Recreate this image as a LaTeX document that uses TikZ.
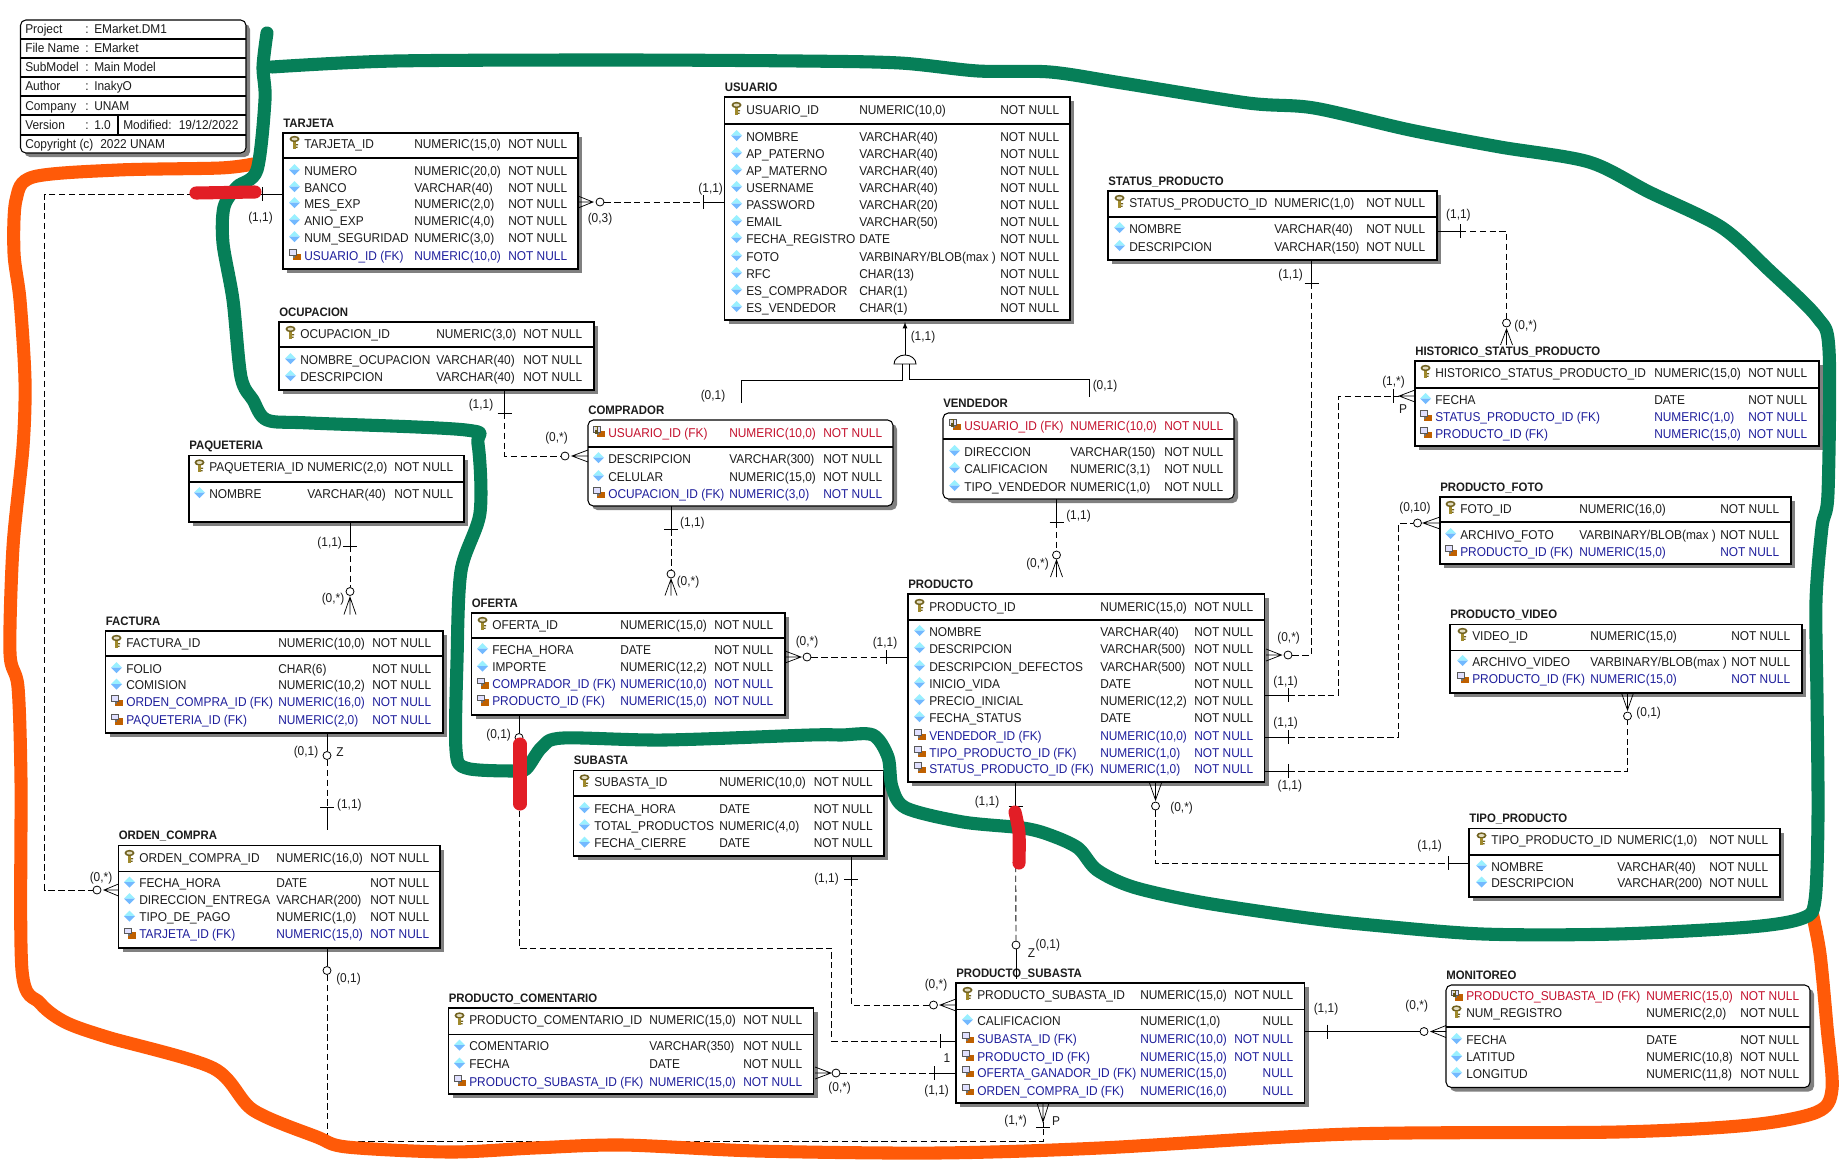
\documentclass[tikz,border=0pt]{standalone}
\usepackage{fontspec}
\setmainfont[FakeStretch=.93]{Liberation Sans}
\usetikzlibrary{fit,shadows}

\definecolor{rowblack}{HTML}{1C1C1C}
\definecolor{fkblue}{HTML}{1F1F9C}
\definecolor{pfred}{HTML}{C4122E}
\definecolor{keygold}{HTML}{A08A2C}
\definecolor{strokegreen}{HTML}{067F58}
\definecolor{strokeorange}{HTML}{FF5A08}
\definecolor{strokered}{HTML}{E21E26}

\tikzset{
  entbox/.style={draw=black,fill=white,line width=.8pt,inner sep=0pt,outer sep=0pt,
    drop shadow={shadow xshift=3pt,shadow yshift=-3pt,opacity=1,fill=black!50}},
  softbox/.style={rounded corners=4pt},
  enttitle/.style={inner sep=0pt,anchor=base west,font=\fontsize{9.2}{11}\selectfont\bfseries,text=rowblack},
  rowtext/.style={inner sep=0pt,anchor=base west,font=\fontsize{9.6}{11}\selectfont,text=rowblack},
  pkrow/.style={},
  atrow/.style={},
  fkrow/.style={text=fkblue},
  pfrow/.style={text=pfred},
  card/.style={inner sep=0pt,font=\fontsize{9.6}{11}\selectfont,text=rowblack},
  rel/.style={dash pattern=on 4.8pt off 2.6pt},
  link/.style={line width=.65pt},
  optc/.style={circle,draw=black,fill=white,line width=.6pt,inner sep=0pt,minimum size=6pt},
  thickstroke/.style={line width=9.8pt,line cap=round,line join=round},
}

% row icons, drawn round the origin
\newcommand{\pkicon}{%
  \fill[keygold!70!black] (0,-3.5) ellipse[x radius=5,y radius=3.2];
  \fill[keygold!30!white] (0,-3.5) ellipse[x radius=3,y radius=1.5];
  \fill[keygold] (-1.5,-1) rectangle (1.5,6);
  \fill[keygold!70!black] (1.5,1.5) rectangle (3.5,2.8) (1.5,4) rectangle (3,5.3);
}
\newcommand{\aticon}{%
  \fill[blue!15!cyan!40!white] (-5.5,0) -- (0,-5.5) -- (5.5,0) -- cycle;
  \fill[blue!50!cyan!55!white] (-5.5,0) -- (0,5.5) -- (5.5,0) -- cycle;
}
\newcommand{\fkicon}{%
  \fill[orange!75!black] (-1.5,-1) rectangle (6,5.5);
  \fill[black!65] (-5.5,-5.5) rectangle (2,1);
  \fill[blue!12!white] (-4.5,-4.5) rectangle (1,0);
  \fill[black!55] (-1.5,1) rectangle (0,3);
}
\newcommand{\pficon}{%
  \fkicon
  \fill[keygold!60!black] (-4,-5.5) rectangle (-1,2);
  \fill[keygold!30!white] (-3.2,-4.5) rectangle (-1.8,-2);
}

% name, title, left, top, right, bottom, divider
\newcommand{\enttable}[8][]{%
  \node[entbox,#1,fit={(#4,#5)(#6,#7)}] (#2) {};
  \node[enttitle] (#2title) at (#4,#5-6) {#3};
  \draw[line width=.8pt] (#4,#8) -- (#6,#8);
}
% name, x of the three columns, rows kind/y/name/type/null
\newcommand{\entrows}[5]{%
  \foreach \rkind/\ry/\ra/\rb/\rc [count=\ri] in {#5}{
    \begin{scope}[shift={(#2-9.5,\ry-1.5)}]
      \csname\rkind icon\endcsname
    \end{scope}
    \node[rowtext,\rkind row] (#1a\ri) at (#2,\ry+4.4) {\ra};
    \node[rowtext,\rkind row] (#1b\ri) at (#3,\ry+4.4) {\rb};
    \node[rowtext,\rkind row] (#1c\ri) at (#4,\ry+4.4) {\rc};
  }
}

\newcommand{\nn}{NOT NULL}
\newcommand{\nul}{\phantom{NOT }NULL}

% crossing bars and crow feet
\newcommand{\tickv}[3]{\coordinate (#1) at (#2,#3); \draw[link] (#2,#3-7) -- (#2,#3+7);}
\newcommand{\tickh}[3]{\coordinate (#1) at (#2,#3); \draw[link] (#2-7,#3) -- (#2+7,#3);}
\newcommand{\crowh}[4]{\coordinate (#1) at (#2,#3);
  \draw[line width=.55pt] (#4,#3-6) -- (#1) -- (#4,#3+6) (#1) -- (#4,#3);}
\newcommand{\crowv}[4]{\coordinate (#1) at (#2,#3);
  \draw[line width=.55pt] (#2-6,#4) -- (#1) -- (#2+6,#4) (#1) -- (#2,#4);}

\begin{document}
\begin{tikzpicture}[x=.75pt,y=-.75pt]
  \useasboundingbox (0,0) rectangle (1840,1161);

  % project block
  \node[entbox,softbox,fit={(20.5,20)(246,153)}] (project) {};
  \foreach \ly in {39,58,77,96,115,135}
    \draw[line width=.8pt] (20.5,\ly) -- (246,\ly);
  \draw[line width=.8pt] (118,115) -- (118,135);
  \foreach \ry/\ra/\rb [count=\ri] in {29.5/Project/EMarket.DM1,48.5/File Name/EMarket,67.5/SubModel/Main Model,86.5/Author/InakyO,106/Company/UNAM,125.5/Version/1.0}{
    \node[rowtext] (prk\ri) at (25,\ry+4.4) {\ra};
    \node[rowtext] (prc\ri) at (85,\ry+4.4) {:};
    \node[rowtext] (prv\ri) at (94,\ry+4.4) {\rb};
  }
  \node[rowtext] (prmod) at (123,129.9) {Modified:};
  \node[rowtext] (prdate) at (178.6,129.9) {19/12/2022};
  \node[rowtext] (prcopy) at (25,148.9) {Copyright (c)};
  \node[rowtext] (prunam) at (100,148.9) {2022 UNAM};

  % tables
  \enttable{tarjeta}{TARJETA}{283}{133}{578}{269}{158}
  \entrows{tarjeta}{304}{414}{508}{pk/144/TARJETA\_ID/{NUMERIC(15,0)}/\nn,at/171/NUMERO/{NUMERIC(20,0)}/\nn,at/188/BANCO/{VARCHAR(40)}/\nn,at/204/MES\_EXP/{NUMERIC(2,0)}/\nn,at/221/ANIO\_EXP/{NUMERIC(4,0)}/\nn,at/238/NUM\_SEGURIDAD/{NUMERIC(3,0)}/\nn,fk/256/USUARIO\_ID (FK)/{NUMERIC(10,0)}/\nn}

  \enttable{ocupacion}{OCUPACION}{279}{322}{594}{390}{347}
  \entrows{ocupacion}{300}{436}{523}{pk/334/OCUPACION\_ID/{NUMERIC(3,0)}/\nn,at/360/NOMBRE\_OCUPACION/{VARCHAR(40)}/\nn,at/377/DESCRIPCION/{VARCHAR(40)}/\nn}

  \enttable{usuario}{USUARIO}{724.5}{97}{1070}{320}{124}
  \entrows{usuario}{746}{859}{1000}{pk/110/USUARIO\_ID/{NUMERIC(10,0)}/\nn,at/137/NOMBRE/{VARCHAR(40)}/\nn,at/154/AP\_PATERNO/{VARCHAR(40)}/\nn,at/171/AP\_MATERNO/{VARCHAR(40)}/\nn,at/188/USERNAME/{VARCHAR(40)}/\nn,at/205/PASSWORD/{VARCHAR(20)}/\nn,at/222/EMAIL/{VARCHAR(50)}/\nn,at/239/FECHA\_REGISTRO/DATE/\nn,at/257/FOTO/{VARBINARY/BLOB(max )}/\nn,at/274/RFC/{CHAR(13)}/\nn,at/291/ES\_COMPRADOR/{CHAR(1)}/\nn,at/308/ES\_VENDEDOR/{CHAR(1)}/\nn}

  \enttable{statusproducto}{STATUS\_PRODUCTO}{1108}{191}{1437}{260}{217}
  \entrows{statusproducto}{1129}{1274}{1366}{pk/203/STATUS\_PRODUCTO\_ID/{NUMERIC(1,0)}/\nn,at/229/NOMBRE/{VARCHAR(40)}/\nn,at/247/DESCRIPCION/{VARCHAR(150)}/\nn}

  \enttable{historico}{HISTORICO\_STATUS\_PRODUCTO}{1415}{361}{1819}{446}{388}
  \entrows{historico}{1435}{1654}{1748}{pk/373/HISTORICO\_STATUS\_PRODUCTO\_ID/{NUMERIC(15,0)}/\nn,at/400/FECHA/DATE/\nn,fk/417/STATUS\_PRODUCTO\_ID (FK)/{NUMERIC(1,0)}/\nn,fk/434/PRODUCTO\_ID (FK)/{NUMERIC(15,0)}/\nn}

  \enttable{productofoto}{PRODUCTO\_FOTO}{1440}{497}{1791}{564}{522}
  \entrows{productofoto}{1460}{1579}{1720}{pk/509/FOTO\_ID/{NUMERIC(16,0)}/\nn,at/535/ARCHIVO\_FOTO/{VARBINARY/BLOB(max )}/\nn,fk/552/PRODUCTO\_ID (FK)/{NUMERIC(15,0)}/\nn}

  \enttable[softbox]{comprador}{COMPRADOR}{588}{420}{893}{506}{447}
  \entrows{comprador}{608}{729}{823}{pf/433/USUARIO\_ID (FK)/{NUMERIC(10,0)}/\nn,at/459/DESCRIPCION/{VARCHAR(300)}/\nn,at/477/CELULAR/{NUMERIC(15,0)}/\nn,fk/494/OCUPACION\_ID (FK)/{NUMERIC(3,0)}/\nn}

  \enttable[softbox]{vendedor}{VENDEDOR}{943}{413}{1234}{499}{439}
  \entrows{vendedor}{964}{1070}{1164}{pf/426/USUARIO\_ID (FK)/{NUMERIC(10,0)}/\nn,at/452/DIRECCION/{VARCHAR(150)}/\nn,at/469/CALIFICACION/{NUMERIC(3,1)}/\nn,at/487/TIPO\_VENDEDOR/{NUMERIC(1,0)}/\nn}

  \enttable{paqueteria}{PAQUETERIA}{189}{455.5}{464}{522}{482}
  \entrows{paqueteria}{209}{307}{394}{pk/467.5/PAQUETERIA\_ID/{NUMERIC(2,0)}/\nn,at/494/NOMBRE/{VARCHAR(40)}/\nn}

  \enttable{factura}{FACTURA}{105.5}{631}{443}{733}{656}
  \entrows{factura}{126}{278}{372}{pk/643/FACTURA\_ID/{NUMERIC(10,0)}/\nn,at/669/FOLIO/{CHAR(6)}/\nn,at/685.5/COMISION/{NUMERIC(10,2)}/\nn,fk/702/ORDEN\_COMPRA\_ID (FK)/{NUMERIC(16,0)}/\nn,fk/720.5/PAQUETERIA\_ID (FK)/{NUMERIC(2,0)}/\nn}

  \enttable{ordencompra}{ORDEN\_COMPRA}{118.5}{845.5}{440}{948}{871.5}
  \entrows{ordencompra}{139}{276}{370}{pk/858/ORDEN\_COMPRA\_ID/{NUMERIC(16,0)}/\nn,at/883.5/FECHA\_HORA/DATE/\nn,at/900/DIRECCION\_ENTREGA/{VARCHAR(200)}/\nn,at/917.5/TIPO\_DE\_PAGO/{NUMERIC(1,0)}/\nn,fk/934.5/TARJETA\_ID (FK)/{NUMERIC(15,0)}/\nn}

  \enttable{oferta}{OFERTA}{471.5}{613}{785}{715}{638}
  \entrows{oferta}{492}{620}{714}{pk/625/OFERTA\_ID/{NUMERIC(15,0)}/\nn,at/650/FECHA\_HORA/DATE/\nn,at/667.5/IMPORTE/{NUMERIC(12,2)}/\nn,fk/684.5/COMPRADOR\_ID (FK)/{NUMERIC(10,0)}/\nn,fk/701.5/PRODUCTO\_ID (FK)/{NUMERIC(15,0)}/\nn}

  \enttable{subasta}{SUBASTA}{573.5}{770.5}{884}{856}{796}
  \entrows{subasta}{594}{719}{813.5}{pk/782.5/SUBASTA\_ID/{NUMERIC(10,0)}/\nn,at/809/FECHA\_HORA/DATE/\nn,at/826/TOTAL\_PRODUCTOS/{NUMERIC(4,0)}/\nn,at/843.5/FECHA\_CIERRE/DATE/\nn}

  \enttable{producto}{PRODUCTO}{908}{594}{1264.5}{782}{620}
  \entrows{producto}{929}{1100}{1194}{pk/607/PRODUCTO\_ID/{NUMERIC(15,0)}/\nn,at/632/NOMBRE/{VARCHAR(40)}/\nn,at/649/DESCRIPCION/{VARCHAR(500)}/\nn,at/667/DESCRIPCION\_DEFECTOS/{VARCHAR(500)}/\nn,at/684/INICIO\_VIDA/DATE/\nn,at/701/PRECIO\_INICIAL/{NUMERIC(12,2)}/\nn,at/718/FECHA\_STATUS/DATE/\nn,fk/736/VENDEDOR\_ID (FK)/{NUMERIC(10,0)}/\nn,fk/753/TIPO\_PRODUCTO\_ID (FK)/{NUMERIC(1,0)}/\nn,fk/769/STATUS\_PRODUCTO\_ID (FK)/{NUMERIC(1,0)}/\nn}

  \enttable{productovideo}{PRODUCTO\_VIDEO}{1450}{624.5}{1802}{693}{650.5}
  \entrows{productovideo}{1472}{1590}{1731}{pk/636/VIDEO\_ID/{NUMERIC(15,0)}/\nn,at/662/ARCHIVO\_VIDEO/{VARBINARY/BLOB(max )}/\nn,fk/679/PRODUCTO\_ID (FK)/{NUMERIC(15,0)}/\nn}

  \enttable{tipoproducto}{TIPO\_PRODUCTO}{1469}{828.5}{1780}{897}{855}
  \entrows{tipoproducto}{1491}{1617}{1709}{pk/840.5/TIPO\_PRODUCTO\_ID/{NUMERIC(1,0)}/\nn,at/867/NOMBRE/{VARCHAR(40)}/\nn,at/883.5/DESCRIPCION/{VARCHAR(200)}/\nn}

  \enttable[softbox]{monitoreo}{MONITOREO}{1446}{985}{1810}{1087.5}{1027}
  \entrows{monitoreo}{1466}{1646}{1740}{pf/996.5/PRODUCTO\_SUBASTA\_ID (FK)/{NUMERIC(15,0)}/\nn,pk/1013.5/NUM\_REGISTRO/{NUMERIC(2,0)}/\nn,at/1040/FECHA/DATE/\nn,at/1057.5/LATITUD/{NUMERIC(10,8)}/\nn,at/1074/LONGITUD/{NUMERIC(11,8)}/\nn}

  \enttable{productosubasta}{PRODUCTO\_SUBASTA}{956}{983}{1304.5}{1103}{1009.5}
  \entrows{productosubasta}{977}{1140}{1234}{pk/995/PRODUCTO\_SUBASTA\_ID/{NUMERIC(15,0)}/\nn,at/1021/CALIFICACION/{NUMERIC(1,0)}/\nul,fk/1039/SUBASTA\_ID (FK)/{NUMERIC(10,0)}/\nn,fk/1057/PRODUCTO\_ID (FK)/{NUMERIC(15,0)}/\nn,fk/1073/OFERTA\_GANADOR\_ID (FK)/{NUMERIC(15,0)}/\nul,fk/1091/ORDEN\_COMPRA\_ID (FK)/{NUMERIC(16,0)}/\nul}

  \enttable{productocoment}{PRODUCTO\_COMENTARIO}{448.5}{1008}{813.5}{1094}{1034.5}
  \entrows{productocoment}{469}{649}{743}{pk/1020.5/PRODUCTO\_COMENTARIO\_ID/{NUMERIC(15,0)}/\nn,at/1046.5/COMENTARIO/{VARCHAR(350)}/\nn,at/1064.5/FECHA/DATE/\nn,fk/1082/PRODUCTO\_SUBASTA\_ID (FK)/{NUMERIC(15,0)}/\nn}

  % usuario subtypes
  \coordinate (gatetop) at (905,355);
  \coordinate (gateleft) at (894,364);
  \coordinate (gateright) at (916,364);
  \draw[link,-latex] (gatetop) -- (905,322);
  \draw[link] (gateleft) arc[start angle=180,end angle=360,x radius=11,y radius=9] -- cycle;
  \draw[link] (902,364) |- (741.5,380) -- (741.5,403);
  \draw[link] (909,364) |- (1089,379) -- (1089,397);

  % tarjeta - orden compra
  \tickv{tick1}{262.5}{194}
  \crowh{crow1}{104}{890}{118.5}
  \node[optc] (opt1) at (97,890) {};
  \draw[link] (tarjeta.west |- tick1) -- (tick1);
  \draw[link,rel] (tick1) -- (44.7,194) |- (opt1);
  % tarjeta - usuario
  \crowh{crow2}{593}{202}{578}
  \node[optc] (opt2) at (600,202) {};
  \tickv{tick2}{703}{202}
  \draw[link,rel] (opt2) -- (tick2);
  \draw[link] (tick2) -- (usuario.west |- tick2);
  % ocupacion - comprador
  \tickh{tick3}{504.5}{413}
  \crowh{crow3}{572}{456}{588}
  \node[optc] (opt3) at (565,456) {};
  \draw[link] (ocupacion.south -| tick3) -- (tick3);
  \draw[link,rel] (tick3) |- (opt3);
  % comprador - oferta
  \tickh{tick4}{671}{529.5}
  \crowv{crow4}{671}{579}{595.5}
  \node[optc] (opt4) at (671,574) {};
  \draw[link] (comprador.south -| tick4) -- (tick4);
  \draw[link,rel] (tick4) -- (opt4);
  % vendedor - producto
  \tickh{tick5}{1056.5}{522}
  \crowv{crow5}{1056.5}{560}{577}
  \node[optc] (opt5) at (1056.5,555) {};
  \draw[link] (vendedor.south -| tick5) -- (tick5);
  \draw[link,rel] (tick5) -- (opt5);
  % paqueteria - factura
  \tickh{tick6}{350}{546}
  \crowv{crow6}{350}{597}{614.5}
  \node[optc] (opt6) at (350,591.5) {};
  \draw[link] (paqueteria.south -| tick6) -- (tick6);
  \draw[link,rel] (tick6) -- (opt6);
  % factura - orden compra
  \node[optc] (opt7) at (327,755.5) {};
  \tickh{tick7}{327}{807.5}
  \coordinate (stub7) at (327,830);
  \draw[link] (factura.south -| opt7) -- (opt7);
  \draw[link,rel] (opt7) -- (tick7);
  \draw[link] (tick7) -- (stub7);
  % orden compra - producto subasta
  \node[optc] (opt8) at (327,970.5) {};
  \tickh{tick8}{1043}{1127.5}
  \crowv{crow8}{1043}{1122}{1103}
  \draw[link] (ordencompra.south -| opt8) -- (opt8);
  \draw[link,rel] (opt8) |- (1043,1141) -- (tick8);
  \draw[link] (tick8) -- (crow8);
  % oferta - producto
  \crowh{crow9}{801}{657}{785}
  \node[optc] (opt9) at (807,657) {};
  \tickv{tick9}{886.5}{657}
  \draw[link,rel] (opt9) -- (tick9);
  \draw[link] (tick9) -- (producto.west |- tick9);
  % oferta - producto subasta
  \node[optc] (opt10) at (519,737.5) {};
  \tickv{tick10}{940}{1041}
  \draw[link] (oferta.south -| opt10) -- (opt10);
  \draw[link,rel] (opt10) |- (831.7,948) |- (tick10);
  \draw[link] (tick10) -- (productosubasta.west |- tick10);
  % subasta - producto subasta
  \tickh{tick11}{851}{879.5}
  \crowh{crow11}{940}{1005}{956}
  \node[optc] (opt11) at (933.5,1005) {};
  \draw[link] (subasta.south -| tick11) -- (tick11);
  \draw[link,rel] (tick11) |- (opt11);
  % producto - producto subasta
  \tickh{tick12}{1015.5}{806.5}
  \node[optc] (opt12) at (1016,945) {};
  \coordinate (stub12) at (1016,979);
  \draw[link] (producto.south -| tick12) -- (tick12);
  \draw[link,rel] (tick12) -- (opt12);
  \draw[link] (opt12) -- (stub12);
  % status producto - producto
  \tickh{tick13}{1311.5}{283}
  \crowh{crow13}{1281.5}{655}{1266}
  \node[optc] (opt13) at (1288,655) {};
  \draw[link] (statusproducto.south -| tick13) -- (tick13);
  \draw[link,rel] (tick13) |- (opt13);
  % producto - historico
  \tickv{tick14}{1288.5}{695}
  \tickv{tick14b}{1393}{396}
  \crowh{crow14}{1399}{396}{1415}
  \draw[link] (producto.east |- tick14) -- (tick14);
  \draw[link,rel] (tick14) -| (1338.5,396) -- (tick14b);
  \draw[link] (tick14b) -- (crow14);
  % producto - producto foto
  \tickv{tick15}{1288.5}{737}
  \crowh{crow15}{1423}{523}{1440}
  \node[optc] (opt15) at (1417.5,523) {};
  \draw[link] (producto.east |- tick15) -- (tick15);
  \draw[link,rel] (tick15) -| (1398.8,523) -- (opt15);
  % producto - producto video
  \tickv{tick16}{1288.5}{771}
  \crowv{crow16}{1627.5}{710}{693}
  \node[optc] (opt16) at (1627.5,716) {};
  \draw[link] (producto.east |- tick16) -- (tick16);
  \draw[link,rel] (tick16) -| (opt16);
  % producto - tipo producto
  \crowv{crow17}{1155.5}{800}{783}
  \node[optc] (opt17) at (1155.5,806) {};
  \tickv{tick17}{1448.5}{863}
  \draw[link,rel] (opt17) |- (tick17);
  \draw[link] (tick17) -- (tipoproducto.west |- tick17);
  % status producto - historico
  \tickv{tick18}{1460}{231}
  \node[optc] (opt18) at (1506.5,323) {};
  \crowv{crow18}{1506.5}{329}{345}
  \draw[link] (statusproducto.east |- tick18) -- (tick18);
  \draw[link,rel] (tick18) -| (opt18);
  % producto comentario - producto subasta
  \crowh{crow19}{831}{1073}{815}
  \node[optc] (opt19) at (836,1073) {};
  \tickv{tick19}{934}{1073}
  \draw[link,rel] (opt19) -- (tick19);
  \draw[link] (tick19) -- (productosubasta.west |- tick19);
  % producto subasta - monitoreo
  \tickv{tick20}{1327}{1031.5}
  \crowh{crow20}{1431}{1031.5}{1446}
  \node[optc] (opt20) at (1424,1031.5) {};
  \draw[link] (productosubasta.east |- tick20) -- (opt20);

  % cardinalities
  \foreach \cx/\cy/\ct [count=\ci] in {
    260.5/218/{(1,1)},600/219/{(0,3)},710.7/188.7/{(1,1)},923/337/{(1,1)},713/396/{(0,1)},1105/386/{(0,1)},
    481/405/{(1,1)},556.5/438/{(0,*)},692.4/523/{(1,1)},688/582/{(0,*)},1078.5/516/{(1,1)},1037.5/564/{(0,*)},
    329.7/543/{(1,1)},333/598.7/{(0,*)},306/752/{(0,1)},340/752.5/Z,349.4/805/{(1,1)},101/878/{(0,*)},348.5/978.7/{(0,1)},
    1015.6/1121/{(1,*)},1056/1121/P,807/642/{(0,*)},885/643/{(1,1)},498.6/734.7/{(0,1)},947/1057.7/1,
    826.5/879/{(1,1)},936/985/{(0,*)},987/802/{(1,1)},1031.4/953/Z,1047.8/945/{(0,1)},
    1288.6/638/{(0,*)},1290.6/275/{(1,1)},1285.7/682/{(1,1)},1393.5/381.7/{(1,*)},1403/409/P,
    1285.7/723/{(1,1)},1415/507.7/{(0,10)},1289.8/786/{(1,1)},1648.7/712.7/{(0,1)},
    1181.6/807.7/{(0,*)},1429.7/846/{(1,1)},1458.4/215/{(1,1)},1525.7/326/{(0,*)},
    839.7/1088/{(0,*)},936.6/1091/{(1,1)},1326/1009/{(1,1)},1416.7/1006/{(0,*)}}
    \node[card] (card\ci) at (\cx,\cy) {\ct};

  % hand drawn strokes
  \draw[thickstroke,strokeorange] plot[smooth,tension=.5] coordinates {
    (1812,912) (1820,954) (1827,1027) (1832,1089) (1817,1112) (1750,1125) (1617,1132) (1350,1134) (1100,1148)
    (936,1153) (757,1151) (623,1145) (534,1148) (450,1152) (347,1147) (317,1137) (253,1110) (213,1068) (107,1037)
    (65,1022) (40,1003) (22,970) (21,780) (18,687) (10,653) (13,547) (23,447) (25,380) (20,300) (14,253) (16,200)
    (33,177) (118,170) (220,168) (253,164)};
  \draw[thickstroke,strokegreen] plot[smooth,tension=.5] coordinates {
    (272,67) (395,61) (620,60) (800,61) (900,63) (978,71) (1050,72) (1122,83) (1248,103) (1314,108) (1410,130)
    (1500,147) (1589,162) (1649,192) (1721,227) (1769,270) (1817,317) (1829,350) (1828,493) (1822,527) (1816,600)
    (1817,699) (1818,816) (1815,900) (1803,918) (1750,927) (1617,934) (1483,934) (1371,925) (1300,917) (1200,902)
    (1133,887) (1097,870) (1078,848) (1050,835) (1023,828) (963,822) (906,808) (892,787) (888,757) (873,735)
    (841,735) (810,735) (664,740) (563,738) (542,747) (526,769) (512,771) (466,768) (456,750) (457,661) (461,571)
    (480,513) (478,444) (466,430) (310,423) (267,420) (253,400) (241,377) (233,300) (223,243) (224,207) (237,187)
    (257,170) (265,100) (263,67) (267,33)};
  \draw[thickstroke,strokered] (196,193) -- (255,192);
  \draw[thickstroke,strokered] (520,744) -- (520,804);
  \draw[thickstroke,strokered] plot[smooth,tension=.5] coordinates {(1015,812) (1019,833) (1019,863)};
\end{tikzpicture}
\end{document}
